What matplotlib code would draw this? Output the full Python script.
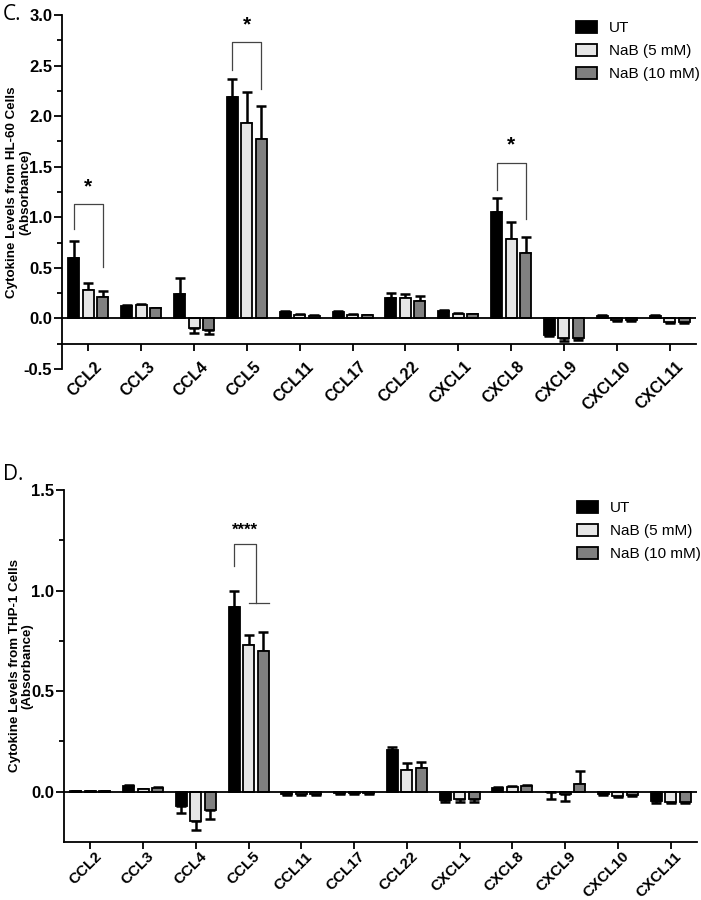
import numpy as np
import matplotlib
matplotlib.use('Agg')
import matplotlib.pyplot as plt
import matplotlib.transforms as mtransforms
from matplotlib.patches import Patch

plt.rcParams['font.family'] = ['Liberation Sans', 'DejaVu Sans']

cytokines = ['CCL2', 'CCL3', 'CCL4', 'CCL5', 'CCL11', 'CCL17', 'CCL22',
             'CXCL1', 'CXCL8', 'CXCL9', 'CXCL10', 'CXCL11']
series_names = ['UT', 'NaB (5 mM)', 'NaB (10 mM)']

# HL-60 cells (panel C)
hl60_ut = [0.60, 0.12, 0.24, 2.19, 0.065, 0.06, 0.205, 0.075, 1.05, -0.165, 0.025, 0.025]
hl60_ut_err = [0.17, 0.01, 0.16, 0.175, 0.01, 0.01, 0.05, 0.01, 0.14, 0.01, 0.005, 0.01]
hl60_5 = [0.28, 0.13, -0.09, 1.935, 0.035, 0.035, 0.205, 0.045, 0.785, -0.19, -0.02, -0.04]
hl60_5_err = [0.07, 0.01, 0.05, 0.305, 0.005, 0.005, 0.035, 0.005, 0.165, 0.03, 0.005, 0.01]
hl60_10 = [0.215, 0.10, -0.11, 1.77, 0.025, 0.03, 0.175, 0.04, 0.65, -0.19, -0.02, -0.035]
hl60_10_err = [0.055, 0.005, 0.045, 0.33, 0.005, 0.005, 0.05, 0.005, 0.16, 0.02, 0.005, 0.01]

# THP-1 cells (panel D)
thp1_ut = [0.003, 0.03, -0.073, 0.92, -0.012, -0.006, 0.205, -0.04, 0.02, -0.003, -0.01, -0.045]
thp1_ut_err = [0.002, 0.005, 0.033, 0.08, 0.004, 0.003, 0.015, 0.013, 0.004, 0.035, 0.004, 0.01]
thp1_5 = [0.003, 0.012, -0.147, 0.728, -0.012, -0.006, 0.11, -0.035, 0.025, -0.01, -0.02, -0.05]
thp1_5_err = [0.002, 0.003, 0.045, 0.05, 0.004, 0.003, 0.035, 0.015, 0.004, 0.035, 0.005, 0.005]
thp1_10 = [0.003, 0.018, -0.093, 0.698, -0.013, -0.008, 0.117, -0.035, 0.03, 0.04, -0.015, -0.05]
thp1_10_err = [0.002, 0.003, 0.043, 0.095, 0.004, 0.003, 0.03, 0.015, 0.004, 0.065, 0.005, 0.005]

colors = ['#000000', '#e6e6e6', '#808080']
width = 0.21
step = 0.275


def draw_bars(ax, vals, errs):
    x = np.arange(len(cytokines))
    for i, (v, e) in enumerate(zip(vals, errs)):
        v = np.array(v)
        e = np.array(e)
        xi = x + (i - 1) * step
        lower = np.where(v < 0, e, 0)
        upper = np.where(v >= 0, e, 0)
        ax.errorbar(xi, v, yerr=[lower, upper], fmt='none', ecolor='black',
                    elinewidth=1.8, capsize=3.5, capthick=1.8, zorder=2)
        ax.bar(xi, v, width, color=colors[i], edgecolor='black',
               linewidth=1.3, zorder=3)
    ax.axhline(0, color='black', lw=1.3, zorder=4)


def bracket(ax, x1, x2, y_left, y_top, y_right, label, fs=15, x_extra=None):
    ax.plot([x1, x1, x2, x2], [y_left, y_top, y_top, y_right],
            color='#444444', lw=0.9, zorder=5)
    if x_extra is not None:
        ax.plot(x_extra, [y_right, y_right], color='#444444', lw=0.9, zorder=5)
    ax.text((x1 + x2) / 2, y_top + (y_top - y_left) * 0.3, label,
            ha='center', va='bottom', fontsize=fs, fontweight='bold')


def style_axes(ax, ylabel, ymin, ymax, yticks, xline, legend_y,
               lab_fs, lab_dx, lab_dy, lab_pad):
    ax.set_xlim(-0.5, 11.5)
    ax.set_ylim(ymin, ymax)
    ax.spines['top'].set_visible(False)
    ax.spines['right'].set_visible(False)
    ax.spines['bottom'].set_position(('data', xline))
    ax.spines['left'].set_linewidth(1.3)
    ax.spines['bottom'].set_linewidth(1.3)
    ax.set_yticks(yticks)
    ax.set_yticklabels(['%.1f' % t for t in yticks], fontsize=12, fontweight='bold')
    ax.set_yticks(np.arange(ymin, ymax + 0.01, 0.25), minor=True)
    ax.tick_params(axis='y', which='major', length=6, width=1.3, pad=1)
    ax.tick_params(axis='y', which='minor', length=3.5, width=1.3)
    ax.set_xticks(np.arange(len(cytokines)))
    ax.set_xticklabels(cytokines, rotation=45, ha='right', rotation_mode='anchor',
                       fontsize=lab_fs, fontweight='bold')
    ax.tick_params(axis='x', length=5, width=1.3, pad=lab_pad)
    shift = mtransforms.ScaledTranslation(lab_dx / 100, lab_dy / 100, fig.dpi_scale_trans)
    for lab in ax.get_xticklabels():
        lab.set_transform(lab.get_transform() + shift)
    ax.set_ylabel(ylabel, fontsize=9.6, fontweight='bold', linespacing=1.05)
    ax.yaxis.set_label_coords(-0.049, 0.5)
    handles = [Patch(facecolor=c, edgecolor='black', linewidth=1.3) for c in colors]
    ax.legend(handles, series_names, loc='upper left', bbox_to_anchor=(0.81, legend_y),
              frameon=False, fontsize=11, handlelength=1.4, handleheight=0.85,
              handletextpad=0.8, labelspacing=0.55, borderpad=0, borderaxespad=0)


fig = plt.figure(figsize=(7.01, 9.0), dpi=100)

axC = fig.add_axes([62 / 701, (900 - 369) / 900, (696 - 62) / 701, (369 - 15) / 900])
draw_bars(axC, [hl60_ut, hl60_5, hl60_10], [hl60_ut_err, hl60_5_err, hl60_10_err])
style_axes(axC, 'Cytokine Levels from HL-60 Cells\n(Absorbance)', -0.5, 3.0,
           [-0.5, 0.0, 0.5, 1.0, 1.5, 2.0, 2.5, 3.0], -0.25,
           1.0 - 6 / 354, 11.5, 6, -4, 3)
bracket(axC, 0 - step, 0 + step, 0.88, 1.13, 0.51, '*')
bracket(axC, 3 - step, 3 + step, 2.46, 2.73, 2.27, '*')
bracket(axC, 8 - step, 8 + step, 1.27, 1.54, 0.98, '*')

axD = fig.add_axes([64 / 701, (900 - 842) / 900, (697 - 64) / 701, (842 - 490) / 900])
draw_bars(axD, [thp1_ut, thp1_5, thp1_10], [thp1_ut_err, thp1_5_err, thp1_10_err])
style_axes(axD, 'Cytokine Levels from THP-1 Cells\n(Absorbance)', -0.25, 1.5,
           [0.0, 0.5, 1.0, 1.5], -0.25,
           1.0 - 11 / 352, 11, 4, 1, 1)
axD.set_yticks(np.arange(0, 1.51, 0.25), minor=True)
bracket(axD, 3 - step, 3 + step / 2, 1.12, 1.23, 0.94, '****', fs=12,
        x_extra=[3, 3 + step + width / 2])

fig.text(3 / 701, 1 - 15 / 900, 'C.', fontsize=15, family='Open Sans', va='center')
fig.text(3 / 701, 1 - 475 / 900, 'D.', fontsize=15, family='Open Sans', va='center')

fig.savefig('out.png', dpi=100)
